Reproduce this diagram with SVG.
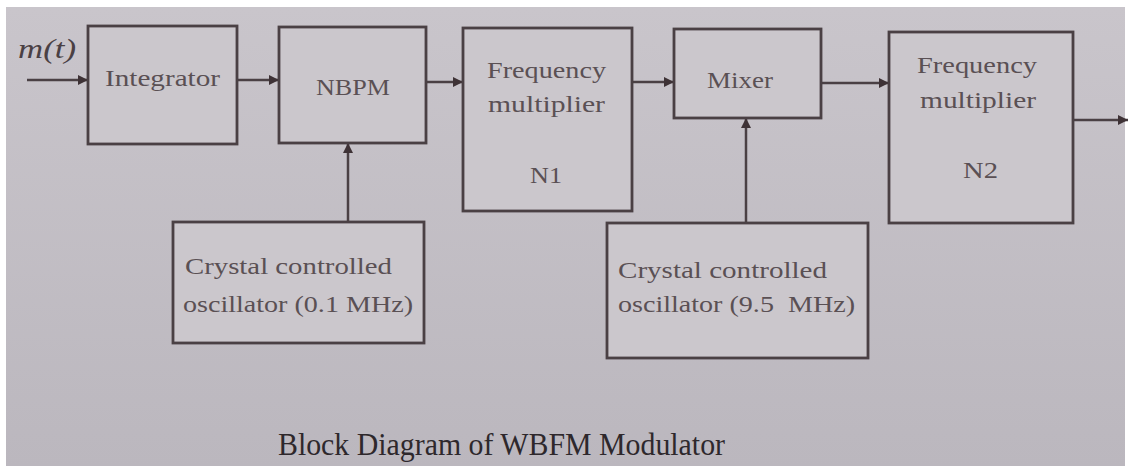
<svg xmlns="http://www.w3.org/2000/svg" width="1131" height="466" viewBox="0 0 1131 466">
<defs>
<linearGradient id="bg" x1="0" y1="0" x2="0" y2="1">
<stop offset="0" stop-color="#c9c5cb"/>
<stop offset="1" stop-color="#bbb7be"/>
</linearGradient>
<marker id="ah" viewBox="0 0 10 10" refX="10" refY="5" markerWidth="14" markerHeight="10" markerUnits="userSpaceOnUse" orient="auto">
<path d="M0,0 L10,5 L0,10 Z" fill="#3e3236"/>
</marker>
<style>
.box{fill:#cbc7cc;stroke:#4a4044;stroke-width:2.8}
.ln{fill:none;stroke:#4a4044;stroke-width:2.5;marker-end:url(#ah)}
.t{font-family:"Liberation Serif","DejaVu Serif",serif;font-size:23px;fill:#5a5054}
.cap{font-family:"Liberation Serif","DejaVu Serif",serif;font-size:31px;fill:#2e282c}
</style>
</defs>
<rect x="0" y="0" width="1131" height="466" fill="#ffffff"/>
<rect x="6" y="7" width="1119" height="459" fill="url(#bg)"/>

<g id="connectors">
<path class="ln" d="M27,80 L88,80"/>
<path class="ln" d="M237,80 L279,80"/>
<path class="ln" d="M426,82 L463,82"/>
<path class="ln" d="M632,82 L674,82"/>
<path class="ln" d="M821,83 L889,83"/>
<path class="ln" d="M1073,120 L1128,120"/>
<path class="ln" d="M348,222 L348,143"/>
<path class="ln" d="M746,223 L746,118"/>
</g>

<g id="input-label">
<text x="18" y="58" font-family="Liberation Serif, DejaVu Serif, serif" font-size="28" font-style="italic" fill="#4a4044" textLength="58" lengthAdjust="spacingAndGlyphs">m(t)</text>
</g>

<g id="integrator">
<rect class="box" x="88" y="26" width="149" height="118"/>
<text class="t" x="105" y="86" textLength="115" lengthAdjust="spacingAndGlyphs">Integrator</text>
</g>

<g id="nbpm">
<rect class="box" x="279" y="27" width="147" height="116"/>
<text class="t" x="316" y="95" textLength="74" lengthAdjust="spacingAndGlyphs">NBPM</text>
</g>

<g id="freq-mult-n1">
<rect class="box" x="463" y="28" width="169" height="183"/>
<text class="t" x="487" y="78" textLength="119" lengthAdjust="spacingAndGlyphs">Frequency</text>
<text class="t" x="488" y="112" textLength="117" lengthAdjust="spacingAndGlyphs">multiplier</text>
<text class="t" x="530" y="183" textLength="32" lengthAdjust="spacingAndGlyphs">N1</text>
</g>

<g id="mixer">
<rect class="box" x="674" y="29" width="147" height="89"/>
<text class="t" x="707" y="88" textLength="66" lengthAdjust="spacingAndGlyphs">Mixer</text>
</g>

<g id="freq-mult-n2">
<rect class="box" x="889" y="32" width="184" height="191"/>
<text class="t" x="917" y="73" textLength="120" lengthAdjust="spacingAndGlyphs">Frequency</text>
<text class="t" x="920" y="108" textLength="116" lengthAdjust="spacingAndGlyphs">multiplier</text>
<text class="t" x="963" y="178" textLength="35" lengthAdjust="spacingAndGlyphs">N2</text>
</g>

<g id="osc-1">
<rect class="box" x="173" y="222" width="251" height="121"/>
<text class="t" x="185" y="274" textLength="207" lengthAdjust="spacingAndGlyphs">Crystal controlled</text>
<text class="t" x="183" y="312" textLength="230" lengthAdjust="spacingAndGlyphs">oscillator (0.1 MHz)</text>
</g>

<g id="osc-2">
<rect class="box" x="607" y="223" width="261" height="135"/>
<text class="t" x="618" y="278" textLength="209" lengthAdjust="spacingAndGlyphs">Crystal controlled</text>
<text class="t" x="618" y="312" textLength="237" lengthAdjust="spacingAndGlyphs">oscillator (9.5&#160; MHz)</text>
</g>

<g id="caption">
<text class="cap" x="278" y="455" textLength="447" lengthAdjust="spacingAndGlyphs">Block Diagram of WBFM Modulator</text>
</g>
</svg>
